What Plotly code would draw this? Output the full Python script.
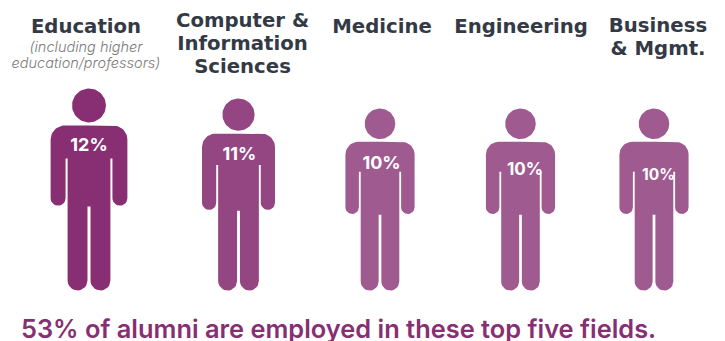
import numpy as np
import plotly.graph_objects as go

# Career fields and the share of alumni employed in each
fields = ["Education", "Computer & Information Sciences", "Medicine", "Engineering", "Business & Mgmt."]
shares = [12, 11, 10, 10, 10]
share_labels = ["12%", "11%", "10%", "10%", "10%"]
title_lines = [["Education"], ["Computer &", "Information", "Sciences"], ["Medicine"], ["Engineering"], ["Business", "& Mgmt."]]
subtitle_lines = ["(including higher", "education/professors)"]
summary = "53% of alumni are employed in these top five fields."

# Page layout, in pixels
W, H = 725, 341
FEET_Y = 290.5
CENTERS = [89, 238.5, 380, 520.5, 654]
TITLE_X = [86, 242.5, 382, 521, 658]
TITLE_Y = [[28], [22, 45, 68], [28.5], [28.5], [27.5, 50.5]]
SUB_X, SUB_Y = [86, 86], [48.5, 64]
LABEL_X = [89, 239.5, 381.5, 525, 658.5]
LABEL_Y = [146, 155, 164, 171, 176]
LABEL_SIZE = [18, 18, 18, 17, 15.5]
COLORS = ["#872F72", "#934681", "#9F5A90"]
FILL = [COLORS[0], COLORS[1], COLORS[2], COLORS[2], COLORS[2]]
INK = "#333A45"
SUMMARY_COLOR = "#872F72"
FONT = "Inter, 'Open Sans', sans-serif"
TITLE_FONT = "'DejaVu Sans', sans-serif"


def figure_height(share):
    # Taller figures for larger shares
    return 82 + 10 * share


def arc(cx, cy, r, a0, a1, n=14):
    t = np.radians(np.linspace(a0, a1, n))
    return list(zip(cx + r * np.cos(t), cy + r * np.sin(t)))


def right_half():
    """Right half of the body outline from the neck line down to the centre gap."""
    hw, top = 0.19, 0.817
    corner, arm = 0.07, 0.074
    arm_bottom, arm_gap_top = 0.42, 0.653
    torso, crotch, gap = 0.106, 0.416, 0.0075
    leg_r = (torso - gap) / 2
    pts = [(0, top), (hw - corner, top)]
    pts += arc(hw - corner, top - corner, corner, 90, 0)
    pts += arc(hw - arm / 2, arm_bottom + arm / 2, arm / 2, 0, -180)
    pts += [(hw - arm, arm_gap_top), (torso, arm_gap_top)]
    pts += arc(gap + leg_r, leg_r, leg_r, 0, -180)
    pts += [(gap, crotch), (0, crotch)]
    return pts


half = right_half()
body = half + [(-x, y) for x, y in reversed(half)]
body_x = np.array([p[0] for p in body])
body_y = np.array([p[1] for p in body])
head = arc(0, 0.916, 0.084, 0, 360, 60)
head_x = np.array([p[0] for p in head])
head_y = np.array([p[1] for p in head])

fig = go.Figure()

for field, share, cx, color in zip(fields, shares, CENTERS, FILL):
    s = figure_height(share)
    xs = np.concatenate([cx + s * body_x, [None], cx + s * head_x])
    ys = np.concatenate([FEET_Y - s * body_y, [None], FEET_Y - s * head_y])
    fig.add_trace(go.Scatter(x=xs, y=ys, mode="lines", fill="toself", fillcolor=color,
                             line=dict(width=0, color=color), name=field, hoverinfo="name"))

# Share labels on each chest
for label, x, y, size in zip(share_labels, LABEL_X, LABEL_Y, LABEL_SIZE):
    fig.add_trace(go.Scatter(x=[x], y=[y], mode="text", text=[label], hoverinfo="skip",
                             textfont=dict(family=FONT, size=size, color="white", weight=700)))

# Field names above the figures
for lines, x, ys in zip(title_lines, TITLE_X, TITLE_Y):
    fig.add_trace(go.Scatter(x=[x] * len(lines), y=ys, mode="text", text=lines, hoverinfo="skip",
                             textfont=dict(family=TITLE_FONT, size=19.7, color=INK, weight=700)))

fig.add_trace(go.Scatter(x=SUB_X, y=SUB_Y, mode="text", text=subtitle_lines, hoverinfo="skip",
                         textfont=dict(family=FONT, size=14.5, color="#7A7A7A", style="italic", weight=300)))

fig.add_trace(go.Scatter(x=[21], y=[331.5], mode="text", text=[summary], textposition="middle right",
                         hoverinfo="skip", cliponaxis=False,
                         textfont=dict(family=FONT, size=25.4, color=SUMMARY_COLOR, weight=600)))

fig.update_layout(
    width=W, height=H, margin=dict(l=0, r=0, t=0, b=0), showlegend=False,
    paper_bgcolor="white", plot_bgcolor="white",
    xaxis=dict(range=[0, W], visible=False, fixedrange=True),
    yaxis=dict(range=[H, 0], visible=False, fixedrange=True),
)

fig.write_html("out.html", config=dict(displayModeBar=False))
